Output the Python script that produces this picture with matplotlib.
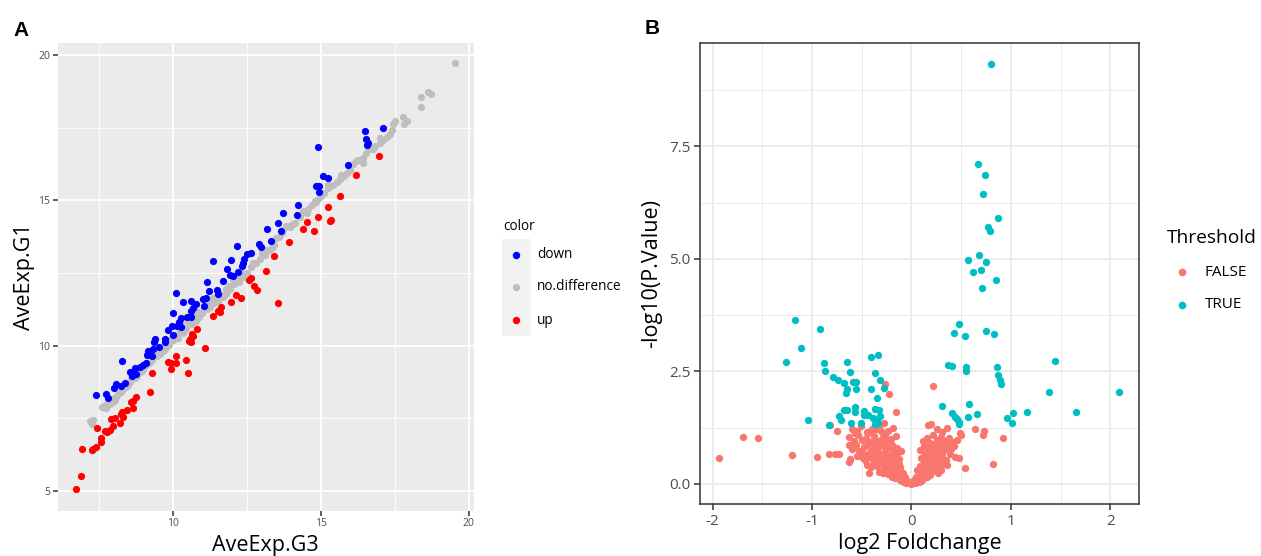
import numpy as np
import matplotlib
matplotlib.use("Agg")
import matplotlib.pyplot as plt
from matplotlib.lines import Line2D
from matplotlib.patches import Rectangle

# ---- Panel A data: AveExp.G3 (x) vs AveExp.G1 (y) ----
down_x = [17.12, 16.50, 16.53, 16.61, 16.56, 14.89, 15.91, 15.09, 15.23, 14.84, 14.95, 14.95,
          14.22, 13.71, 14.21, 13.56, 13.67, 13.17, 13.31, 12.92, 12.97, 12.18, 12.63, 12.52,
          12.40, 12.38, 12.35, 11.37, 11.98, 11.84, 12.21, 12.04, 11.93, 11.68, 11.16, 11.48,
          11.23, 11.51, 11.03, 11.11, 11.05, 10.10, 10.33, 10.61, 10.77, 10.67, 10.60, 10.49,
          10.60, 9.99, 10.26, 10.21, 10.15, 10.29, 9.98, 9.82, 9.99, 9.75, 9.73, 9.39, 9.36,
          9.54, 9.34, 9.16, 9.11, 9.28, 8.28, 9.08, 8.99, 8.88, 8.71, 8.56, 8.63, 8.75, 8.38,
          8.09, 8.00, 8.23, 7.75, 7.40, 7.81]
down_y = [17.49, 17.37, 17.10, 16.97, 16.90, 16.82, 16.21, 15.85, 15.76, 15.48, 15.48, 15.30,
          14.83, 14.55, 14.49, 14.22, 13.94, 14.00, 13.59, 13.49, 13.41, 13.44, 13.19, 13.15,
          12.98, 12.85, 12.74, 12.90, 12.93, 12.64, 12.52, 12.40, 12.43, 12.23, 12.20, 11.91,
          11.88, 11.79, 11.62, 11.64, 11.37, 11.81, 11.50, 11.53, 11.42, 11.28, 11.20, 11.00,
          10.97, 11.13, 10.96, 10.81, 10.69, 10.63, 10.67, 10.54, 10.36, 10.24, 10.12, 10.23,
          10.11, 9.96, 9.87, 9.81, 9.69, 9.63, 9.47, 9.41, 9.33, 9.27, 9.23, 9.11, 8.96, 9.01,
          8.72, 8.69, 8.53, 8.60, 8.35, 8.29, 8.21]

nodiff_x = [19.55, 18.39, 18.63, 18.74, 18.39, 17.93, 17.78, 17.52, 17.44, 17.82, 17.33, 17.24,
            17.12, 16.99, 16.84, 16.67, 16.54, 16.44, 16.42, 16.08, 15.88, 15.77, 15.65, 15.54,
            15.41, 15.26, 15.11, 15.00, 14.84, 14.70, 14.58, 14.44, 14.30, 14.13, 13.96, 13.83,
            13.68, 13.60, 13.42, 13.26, 13.12, 12.95, 12.81, 12.63, 12.49, 12.38, 12.25, 12.07,
            11.93, 11.79, 11.68, 11.53, 11.39, 11.25, 11.14, 11.00, 10.89, 10.78, 10.63, 10.46,
            10.33, 10.18, 10.01, 9.88, 9.73, 9.58, 9.45, 9.31, 9.16, 8.99, 8.86, 8.71, 8.54,
            8.41, 8.23, 8.09, 7.96, 7.78, 7.66, 7.73, 7.28, 7.19,
            17.40, 16.78, 16.27, 15.99, 15.26, 14.92, 14.53, 14.05, 13.74, 13.34, 13.00, 12.72,
            12.27, 12.04, 11.81, 11.59, 11.37, 11.19, 11.05, 10.86, 10.69, 10.52, 10.29, 10.24,
            10.07, 9.93, 9.80, 9.66, 9.50, 9.36, 9.22, 9.08, 8.94, 8.79, 8.60, 8.47, 8.32, 8.15,
            8.04, 7.87,
            17.0, 16.6, 16.2, 15.7, 15.3, 14.8, 14.4, 14.0, 13.5, 13.1, 12.7, 12.3, 11.9, 11.5,
            11.1, 10.7, 10.4, 10.0, 9.6, 9.2, 8.8, 8.4, 8.0, 7.6, 7.3]
nodiff_y = [19.71, 18.54, 18.71, 18.64, 18.20, 17.71, 17.88, 17.71, 17.61, 17.64, 17.27, 17.19,
            17.06, 16.98, 16.88, 16.76, 16.64, 16.45, 16.27, 16.25, 15.93, 15.84, 15.72, 15.64,
            15.54, 15.42, 15.24, 15.15, 14.93, 14.83, 14.69, 14.59, 14.42, 14.22, 14.08, 14.13,
            13.86, 13.74, 13.47, 13.29, 13.13, 12.98, 12.86, 12.71, 12.49, 12.35, 12.19, 12.13,
            11.95, 11.76, 11.67, 11.54, 11.46, 11.34, 11.25, 11.13, 10.97, 10.85, 10.73, 10.61,
            10.45, 10.28, 10.18, 10.03, 9.87, 9.72, 9.63, 9.51, 9.39, 9.20, 9.06, 8.90, 8.74,
            8.60, 8.41, 8.23, 8.05, 7.99, 7.93, 7.86, 7.32, 7.40,
            17.43, 16.78, 16.37, 16.05, 15.54, 15.05, 14.56, 14.18, 13.98, 13.35, 13.20, 12.80,
            12.37, 12.25, 11.95, 11.76, 11.64, 11.52, 11.30, 11.15, 11.03, 10.85, 10.73, 10.48,
            10.36, 10.24, 10.00, 9.81, 9.81, 9.63, 9.45, 9.33, 9.14, 8.96, 8.84, 8.66, 8.50, 8.33,
            8.13, 8.01,
            17.15, 16.82, 16.35, 15.86, 15.50, 14.98, 14.62, 14.15, 13.72, 13.30, 12.85, 12.50,
            12.05, 11.72, 11.28, 10.92, 10.55, 10.20, 9.78, 9.42, 9.00, 8.58, 8.20, 7.88, 7.45]

up_x = [16.98, 16.20, 15.65, 15.23, 14.89, 14.53, 14.41, 14.77, 15.32, 15.35, 13.91, 13.43,
        13.14, 12.58, 12.64, 12.75, 12.83, 13.57, 12.13, 12.31, 11.96, 11.63, 11.52, 11.60,
        11.34, 10.80, 10.65, 10.67, 10.58, 10.62, 10.53, 11.08, 10.10, 9.85, 9.93, 10.12,
        10.44, 9.94, 10.51, 9.31, 9.22, 8.75, 8.66, 8.58, 8.64, 8.45, 8.29, 8.23, 8.32, 8.04,
        7.92, 8.21, 7.98, 7.87, 7.78, 7.70, 7.43, 7.58, 7.58, 7.39, 7.30, 7.25, 6.92, 6.90, 6.74]
up_y = [16.54, 15.86, 15.16, 14.78, 14.42, 14.26, 14.01, 13.96, 14.30, 14.32, 13.55, 13.10,
        12.58, 12.27, 12.32, 12.06, 11.91, 11.47, 11.75, 11.63, 11.50, 11.32, 11.18, 11.15,
        11.01, 10.57, 10.40, 10.34, 10.24, 10.12, 10.15, 9.91, 9.63, 9.45, 9.42, 9.42,
        9.51, 9.19, 9.07, 9.06, 8.39, 8.22, 8.11, 8.05, 7.86, 7.80, 7.71, 7.64, 7.56, 7.50,
        7.47, 7.35, 7.25, 7.11, 7.04, 7.06, 7.17, 6.83, 6.67, 6.50, 6.43, 6.41, 6.46, 5.52, 5.07]

# ---- Panel B data: log2 fold change vs -log10(P.Value) ----
true_x = [0.80, 0.67, 0.745, 0.725, 0.876, 0.775, 0.795, 0.57, 0.675, 0.75, 0.624, 0.695,
          0.846, 0.71, 0.483, 0.433, 0.534, 0.755, 0.832, 0.369, 0.406, 0.55, 0.544, 0.859,
          0.872, 0.889, 0.903, 1.443, 1.386, 2.087, 1.658, 1.164, 1.017, 0.96, 1.013, 0.309,
          0.577, 0.664, 0.567, 0.413, 0.44, 0.463, 0.48, 0.48,
          -1.171, -0.923, -1.114, -1.258, -0.883, -0.872, -0.785, -0.735, -0.674, -0.651,
          -0.621, -0.584, -0.557, -0.648, -0.658, -0.554, -0.409, -0.332, -0.369, -0.315,
          -0.403, -0.272, -0.346, -1.040, -0.832, -0.728, -0.711, -0.681, -0.651, -0.564,
          -0.564, -0.611, -0.507, -0.480, -0.440, -0.389, -0.369, -0.322, -0.319, -0.346,
          -0.362, -0.332, -0.477]
true_y = [9.34, 7.11, 6.87, 6.45, 5.91, 5.72, 5.61, 4.98, 5.08, 4.94, 4.70, 4.76,
          4.53, 4.36, 3.56, 3.36, 3.29, 3.40, 3.33, 2.64, 2.62, 2.59, 2.50, 2.59,
          2.42, 2.30, 2.22, 2.73, 2.03, 2.05, 1.60, 1.59, 1.57, 1.47, 1.35, 1.72,
          1.78, 1.54, 1.48, 1.58, 1.49, 1.43, 1.38, 1.32,
          3.63, 3.43, 3.01, 2.71, 2.69, 2.50, 2.37, 2.30, 2.24, 2.70,
          2.49, 2.26, 2.26, 2.11, 2.01, 2.11, 2.82, 2.86, 2.46, 2.30,
          2.11, 2.12, 1.90, 1.42, 1.30, 1.50, 1.42, 1.65, 1.64, 1.71,
          1.60, 1.36, 1.36, 1.61, 1.53, 1.46, 1.67, 1.64, 1.50, 1.41,
          1.33, 1.36, 1.53]

false_x = [-1.936, -1.695, -1.540, -1.205, -0.953, -0.832, -0.765, -0.728, -0.745, -0.819,
           -0.624, -0.621, -0.631, -0.430, -0.265, -0.225, -0.151, 0.221, 0.644, 0.728,
           0.725, 0.919, 0.819, 0.540, 0.503, 0.487,
           -0.10, -0.07, -0.05, -0.03, -0.01, 0.00, 0.02, 0.04, 0.06, 0.08, 0.10, -0.12,
           -0.20, -0.17, -0.15, -0.13, -0.11, -0.08, 0.07, 0.10, 0.12, 0.14, 0.16, 0.19,
           -0.33, -0.29, -0.26, -0.24, -0.21, -0.18, -0.15, -0.12, 0.12, 0.15, 0.18, 0.21,
           0.24, 0.27, 0.30,
           -0.45, -0.41, -0.38, -0.35, -0.31, -0.28, -0.25, -0.22, -0.19, -0.16, -0.13, 0.13,
           0.17, 0.20, 0.23, 0.26, 0.29, 0.32, 0.36,
           -0.62, -0.55, -0.50, -0.47, -0.43, -0.40, -0.36, -0.33, -0.30, -0.27, -0.24, -0.20,
           -0.16, -0.13, 0.10, 0.14, 0.18, 0.21, 0.24, 0.28, 0.31, 0.35, 0.39, 0.44, 0.48,
           -0.60, -0.56, -0.52, -0.48, -0.44, -0.41, -0.37, -0.34, -0.31, -0.27, -0.23, -0.19,
           -0.15, 0.09, 0.13, 0.17, 0.20, 0.24, 0.27, 0.31, 0.35, 0.40, 0.43, -0.11,
           -0.63, -0.58, -0.54, -0.50, -0.46, -0.42, -0.38, -0.33, -0.29, -0.25, -0.21, -0.16,
           0.12, 0.16, 0.19, 0.22, 0.26, 0.30, 0.34, 0.38,
           -0.60, -0.55, -0.51, -0.45, -0.40, -0.33, -0.28, -0.24, -0.19, 0.17, 0.20, 0.26,
           0.31, 0.36,
           -0.58, -0.53, -0.49, -0.44, -0.39, -0.35, -0.32, -0.28, -0.25, -0.22, -0.18, -0.14,
           -0.10, -0.06,
           -0.57, -0.42, -0.37, -0.30, -0.26, -0.21, -0.17, -0.12, -0.09,
           0.03, 0.05, 0.08, 0.11, 0.15, 0.18, 0.22, 0.25, 0.29, 0.33, 0.37, 0.41, 0.46,
           0.06, 0.09, 0.13, 0.16, 0.19, 0.23, 0.27, 0.30,
           -0.36, -0.31, -0.27, -0.23, -0.20, -0.14,
           -0.04, -0.02, 0.01, 0.03, -0.06, 0.05]
false_y = [0.57, 1.05, 1.02, 0.65, 0.59, 0.67, 0.67, 0.67, 1.18, 1.30,
           0.86, 0.53, 0.48, 0.24, 2.22, 2.00, 1.60, 2.18, 1.22, 1.17,
           1.08, 1.02, 0.45, 0.35, 1.09, 1.12,
           0.06, 0.04, 0.02, 0.03, 0.01, 0.00, 0.01, 0.02, 0.03, 0.05, 0.07, 0.08,
           0.15, 0.13, 0.18, 0.12, 0.17, 0.11, 0.12, 0.16, 0.10, 0.18, 0.14, 0.19,
           0.27, 0.24, 0.31, 0.22, 0.28, 0.33, 0.25, 0.30, 0.26, 0.31, 0.23, 0.28,
           0.33, 0.25, 0.30,
           0.42, 0.38, 0.47, 0.40, 0.44, 0.37, 0.49, 0.41, 0.46, 0.38, 0.44, 0.40,
           0.47, 0.38, 0.43, 0.49, 0.37, 0.45, 0.41,
           0.55, 0.62, 0.68, 0.52, 0.60, 0.66, 0.54, 0.69, 0.58, 0.64, 0.51, 0.57,
           0.63, 0.55, 0.58, 0.66, 0.52, 0.61, 0.69, 0.56, 0.64, 0.53, 0.67, 0.60, 0.57,
           0.78, 0.86, 0.73, 0.81, 0.88, 0.75, 0.83, 0.71, 0.87, 0.79, 0.84, 0.74,
           0.80, 0.76, 0.85, 0.72, 0.81, 0.88, 0.74, 0.79, 0.86, 0.77, 0.83, 0.72,
           1.05, 0.95, 1.08, 0.98, 1.02, 0.93, 1.07, 0.96, 1.04, 0.92, 1.00, 1.06,
           0.95, 1.02, 0.91, 1.08, 0.97, 1.04, 0.94, 1.01,
           1.22, 1.17, 1.28, 1.14, 1.21, 1.26, 1.34, 1.18, 1.25, 1.30, 1.33, 1.22,
           1.16, 1.24,
           0.92, 0.72, 0.58, 0.66, 0.52, 0.78, 0.45, 0.58, 0.39, 0.48, 0.35, 0.28,
           0.18, 0.10,
           1.12, 1.15, 0.92, 1.00, 0.72, 0.62, 0.52, 0.37, 0.25,
           0.08, 0.15, 0.22, 0.29, 0.36, 0.44, 0.50, 0.58, 0.68, 0.74, 0.85, 0.92, 0.98,
           0.30, 0.40, 0.48, 0.56, 0.70, 0.80, 0.90, 0.96,
           1.22, 1.18, 1.06, 0.96, 0.86, 0.70,
           0.06, 0.04, 0.03, 0.05, 0.14, 0.11]

W, H = 1261, 556
plt.rcParams['font.family'] = ['Open Sans', 'DejaVu Sans']

fig = plt.figure(figsize=(W / 100, H / 100), dpi=100)


def fx(px):
    return px / W


def fy(py):
    return 1 - py / H


# ---------------- Panel A ----------------
axA = fig.add_axes([fx(57.5), fy(510.5), fx(474) - fx(57.5), fy(43) - fy(510.5)])
axA.set_facecolor('#EBEBEB')
axA.scatter(nodiff_x, nodiff_y, s=27, color='#BEBEBE', linewidths=0, zorder=3)
axA.scatter(down_x, down_y, s=27, color='#0000FF', linewidths=0, zorder=3)
axA.scatter(up_x, up_y, s=27, color='#FF0000', linewidths=0, zorder=3)
axA.set_xlim(6.1, 20.18)
axA.set_ylim(4.33, 20.41)
axA.set_xticks([10, 15, 20])
axA.set_yticks([5, 10, 15, 20])
axA.set_xticks([7.5, 12.5, 17.5], minor=True)
axA.set_yticks([7.5, 12.5, 17.5], minor=True)
axA.grid(which='major', color='white', linewidth=1.3)
axA.grid(which='minor', color='white', linewidth=0.6)
axA.set_axisbelow(True)
for sp in axA.spines.values():
    sp.set_visible(False)
axA.tick_params(which='major', length=3.5, width=1.1, color='#333333',
                labelsize=7.5, labelcolor='#4D4D4D', pad=2)
axA.tick_params(which='minor', length=0)
axA.set_xlabel('AveExp.G3', fontsize=15.5, color='black', labelpad=4)
axA.set_ylabel('AveExp.G1', fontsize=15.5, color='black', labelpad=2)

# legend A (drawn like ggplot's guide)
fig.text(fx(503), fy(227), 'color', fontsize=9.8, ha='left', va='center')
fig.add_artist(Rectangle((fx(502), fy(336)), fx(531) - fx(502), fy(239) - fy(336),
                         transform=fig.transFigure, facecolor='#F2F2F2', edgecolor='none'))
for lab, col, py in [('down', '#0000FF', 255), ('no.difference', '#BEBEBE', 287), ('up', '#FF0000', 320)]:
    fig.add_artist(Line2D([fx(516)], [fy(py)], marker='o', markersize=4.3, color=col,
                          linestyle='none', transform=fig.transFigure))
    fig.text(fx(537), fy(py), lab, fontsize=9.8, ha='left', va='center')

# ---------------- Panel B ----------------
axB = fig.add_axes([fx(700), fy(504), fx(1139) - fx(700), fy(43) - fy(504)])
axB.set_facecolor('white')
axB.scatter(false_x, false_y, s=28, color='#F8766D', linewidths=0, zorder=3)
axB.scatter(true_x, true_y, s=28, color='#00BFC4', linewidths=0, zorder=3)
axB.set_xlim(-2.128, 2.29)
axB.set_ylim(-0.45, 9.80)
axB.set_xticks([-2, -1, 0, 1, 2])
axB.set_xticklabels(['-2', '-1', '0', '1', '2'])
axB.set_yticks([0, 2.5, 5, 7.5])
axB.set_yticklabels(['0.0', '2.5', '5.0', '7.5'])
axB.set_xticks([-1.5, -0.5, 0.5, 1.5], minor=True)
axB.set_yticks([1.25, 3.75, 6.25, 8.75], minor=True)
axB.grid(which='major', color='#EBEBEB', linewidth=1.3)
axB.grid(which='minor', color='#EBEBEB', linewidth=0.7)
axB.set_axisbelow(True)
for sp in axB.spines.values():
    sp.set_color('#333333')
    sp.set_linewidth(1.1)
axB.tick_params(which='major', length=4, width=1.1, color='#333333',
                labelsize=11, labelcolor='#4D4D4D', pad=3)
axB.tick_params(which='minor', length=0)
axB.set_xlabel('log2 Foldchange', fontsize=15.5, color='black', labelpad=3)
axB.set_ylabel('-log10(P.Value)', fontsize=15.5, color='black', labelpad=5)

# legend B
fig.text(fx(1167), fy(238), 'Threshold', fontsize=13.8, ha='left', va='center')
for lab, col, py in [('FALSE', '#F8766D', 272), ('TRUE', '#00BFC4', 305)]:
    fig.add_artist(Line2D([fx(1182)], [fy(py)], marker='o', markersize=4.5, color=col,
                          linestyle='none', transform=fig.transFigure))
    fig.text(fx(1205), fy(py), lab, fontsize=11, ha='left', va='center')

# panel letters
fig.text(fx(13), fy(30), 'A', fontsize=15, fontweight='bold', family='Liberation Sans',
         ha='left', va='center')
fig.text(fx(645), fy(29), 'B', fontsize=15, fontweight='bold', family='Liberation Sans',
         ha='left', va='center')

fig.savefig('out.png', dpi=100)
